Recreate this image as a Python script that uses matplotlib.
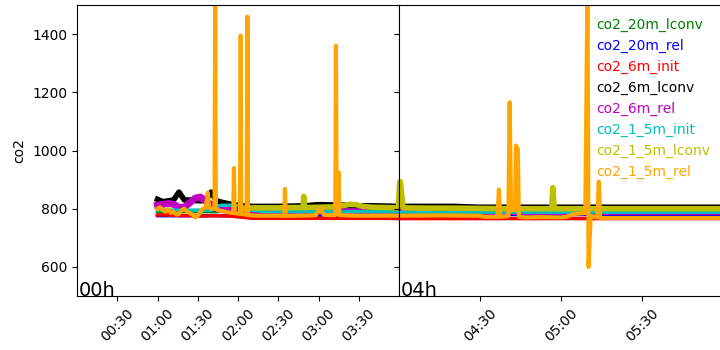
import matplotlib.pyplot as plt
import matplotlib.dates as mdates
import pandas as pd

# minutes after midnight for the slowly varying sensors
t_grid = [60, 64, 68, 72, 76, 80, 84, 88, 92, 96, 100, 104, 108, 112, 116, 120, 125, 130,
          140, 150, 160, 170, 180, 190, 200, 210, 220, 230, 240, 250, 260, 270, 280, 290,
          300, 310, 320, 330, 340, 350, 365]

co2_20m_lconv = [790, 790, 790, 790, 790, 790, 790, 790, 790, 790, 790, 790, 792, 794, 796, 798,
                 799, 800, 800, 800, 800, 800, 800, 800, 801, 801, 800, 800, 800, 800, 799, 799,
                 799, 799, 799, 799, 799, 799, 799, 799, 799]
co2_20m_rel = [776, 776, 776, 776, 776, 776, 776, 776, 776, 776, 776, 776, 776, 776, 776, 776,
               777, 778, 778, 778, 778, 778, 778, 778, 778, 778, 778, 778, 784, 784, 784, 782,
               780, 780, 780, 780, 780, 780, 780, 780, 780]
co2_6m_init = [778, 779, 778, 777, 777, 776, 776, 775, 775, 775, 776, 776, 775, 775, 774, 772,
               770, 767, 767, 767, 767, 767, 767, 767, 767, 767, 767, 767, 766, 766, 766, 766,
               766, 766, 766, 766, 766, 766, 766, 766, 766]
co2_6m_lconv = [832, 824, 827, 830, 857, 830, 830, 828, 827, 830, 857, 827, 822, 818, 814, 812,
                810, 808, 808, 808, 809, 810, 814, 813, 812, 810, 810, 809, 808, 808, 808, 805,
                805, 805, 805, 805, 805, 805, 805, 805, 805]
co2_6m_rel = [812, 815, 818, 815, 805, 805, 820, 836, 840, 825, 815, 800, 797, 795, 793, 792,
              791, 790, 790, 790, 790, 790, 790, 790, 790, 790, 790, 790, 790, 790, 790, 790,
              790, 790, 790, 790, 790, 790, 790, 790, 790]
co2_1_5m_init = [795, 795, 795, 795, 795, 795, 795, 795, 795, 795, 795, 808, 812, 812, 812, 810,
                 805, 795, 790, 790, 790, 790, 790, 790, 790, 790, 790, 790, 788, 788, 788, 788,
                 788, 788, 788, 788, 788, 788, 788, 788, 788]

# the 1.5 m sensors have short spikes, so they keep their own time stamps
t_1_5m_lconv = [125, 130, 140, 150, 160, 168.5, 169, 169.5, 180, 190, 200, 203, 208, 213, 220,
                230, 239.5, 240.5, 241.5, 250, 260, 270, 280, 296.5, 297, 297.5, 300, 320, 340, 365]
co2_1_5m_lconv = [800, 803, 803, 803, 804, 804, 842, 804, 805, 806, 812, 815, 814, 808, 805,
                  804, 803, 893, 803, 802, 802, 801, 800, 800, 872, 800, 800, 800, 800, 800]

t_1_5m_rel = [60, 62, 64, 66, 68, 70, 72, 74, 76, 78, 80, 82, 84, 86, 88, 90, 92, 94, 96,
              97.5, 98.5, 100, 102.5, 103, 103.5, 105, 108, 112, 116.5, 117, 117.5, 120,
              121.5, 122, 122.5, 125, 126.5, 127, 127.5, 130, 135, 140, 150, 154.5, 155, 155.5,
              165, 175, 178, 181, 184, 188, 192.5, 193, 193.5, 194.5, 195, 195.5, 200, 210,
              225, 240, 255, 269, 272, 276.5, 277, 277.5, 280.5, 281, 281.5, 283, 283.3, 284,
              284.4, 287, 292, 300, 302, 305, 309, 309.8, 310.2, 311, 313.5, 314, 314.5, 320,
              330, 345, 365]
co2_1_5m_rel = [800, 805, 795, 790, 798, 785, 790, 780, 782, 795, 800, 790, 785, 780, 770, 775,
                790, 800, 805,
                855, 805, 800, 800, 1560, 800, 795, 792, 788, 785, 940, 785, 783,
                782, 1395, 782, 780, 780, 1460, 778, 777, 776, 776, 776, 775, 868, 775,
                776, 777, 778, 800, 779, 778, 778, 1360, 790, 790, 925, 778, 777, 776,
                776, 776, 777, 776, 772, 772, 866, 772, 775, 1166, 795, 795, 1017, 1005,
                772, 770, 771, 770, 772, 782, 785, 1560, 600, 775, 770, 893, 768, 768,
                768, 768, 768]

names = ['co2_20m_lconv', 'co2_20m_rel', 'co2_6m_init', 'co2_6m_lconv',
         'co2_6m_rel', 'co2_1_5m_init', 'co2_1_5m_lconv', 'co2_1_5m_rel']
colors = ['g', 'b', 'r', 'k', 'm', 'c', 'y', 'orange']
widths = [2.5, 2.5, 2.5, 4, 5, 2.5, 4, 3]

series = [(t_grid, co2_20m_lconv), (t_grid, co2_20m_rel), (t_grid, co2_6m_init),
          (t_grid, co2_6m_lconv), (t_grid, co2_6m_rel), (t_grid, co2_1_5m_init),
          (t_1_5m_lconv, co2_1_5m_lconv), (t_1_5m_rel, co2_1_5m_rel)]

day = pd.Timestamp('2000-01-01')


def to_time(minutes):
    return (day + pd.to_timedelta(minutes, unit='min')).to_numpy()


fig = plt.figure(figsize=(7.2, 3.5), dpi=100)
ax1 = fig.add_axes([77 / 720, 54 / 350, 322 / 720, 291 / 350])
ax2 = fig.add_axes([399 / 720, 54 / 350, 324 / 720, 291 / 350], sharey=ax1)

lines = []
for ax in (ax1, ax2):
    for (t, v), name, c, lw in zip(series, names, colors, widths):
        ln, = ax.plot(to_time(t), v, color=c, lw=lw, label=name)
        if ax is ax2:
            lines.append(ln)

ax1.set_xlim(to_time(0), to_time(240))
ax2.set_xlim(to_time(240), to_time(360))
ax1.set_ylim(500, 1500)
ax1.set_yticks([600, 800, 1000, 1200, 1400])
ax1.set_ylabel('co2')
ax2.tick_params(axis='y', labelleft=False)

ax1.set_xticks(to_time([30, 60, 90, 120, 150, 180, 210]))
ax2.set_xticks(to_time([270, 300, 330]))
for ax in (ax1, ax2):
    ax.xaxis.set_major_formatter(mdates.DateFormatter('%H:%M'))
    ax.tick_params(axis='x', labelrotation=45)

ax1.text(0.004, 0, '00h', transform=ax1.transAxes, fontsize=14, va='baseline')
ax2.text(0.004, 0, '04h', transform=ax2.transAxes, fontsize=14, va='baseline')

leg = ax2.legend(loc='upper right', frameon=False, handlelength=0, handletextpad=0,
                 fontsize=10)
for h in leg.legend_handles:
    h.set_visible(False)
for text, ln in zip(leg.get_texts(), lines):
    text.set_color(ln.get_color())

fig.savefig('out.png', dpi=100)
